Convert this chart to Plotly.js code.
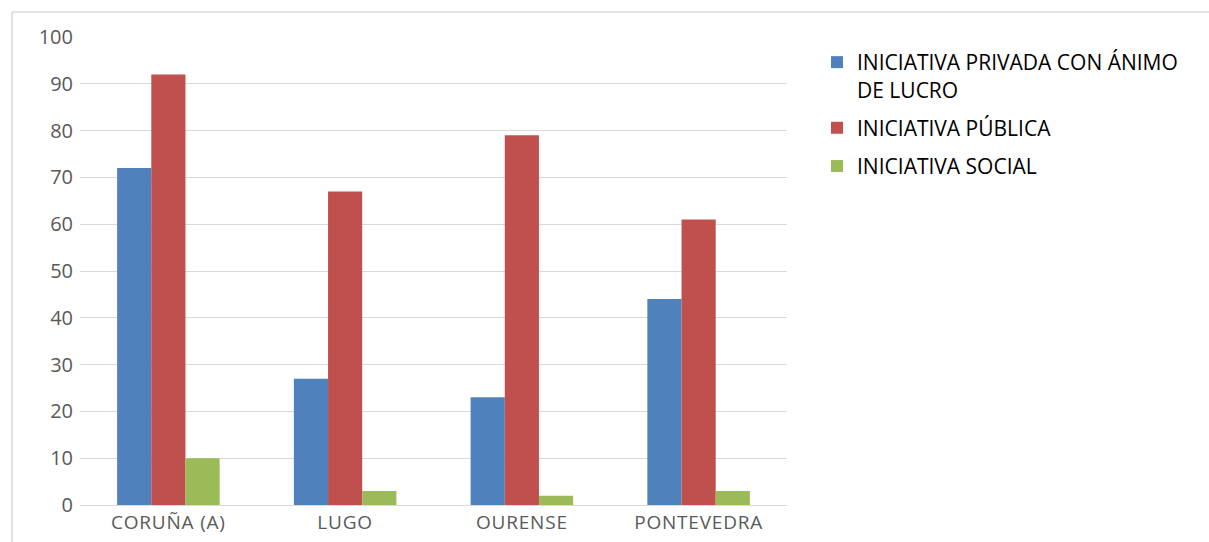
<!DOCTYPE html>
<html>
<head>
<meta charset="utf-8">
<script src="https://cdn.plot.ly/plotly-3.0.1.min.js"></script>
<style>
html,body{margin:0;padding:0;background:#fff;}
#chart{width:1209px;height:542px;}
#chart .xtick text{letter-spacing:0.8px;}
</style>
</head>
<body>
<div id="chart"></div>
<script>
const categories = ["CORUÑA (A)", "LUGO", "OURENSE", "PONTEVEDRA"];
const seriesNames = ["INICIATIVA PRIVADA CON ÁNIMO<br>DE LUCRO", "INICIATIVA PÚBLICA", "INICIATIVA SOCIAL"];
const privada = [72, 27, 23, 44];
const publica = [92, 67, 79, 61];
const social = [10, 3, 2, 3];
const colors = ["#4F81BD", "#C0504D", "#9BBB59"];
const yTicks = [0, 10, 20, 30, 40, 50, 60, 70, 80, 90, 100];

const seriesValues = [privada, publica, social];
const traces = seriesValues.map((vals, i) => ({
  type: "bar",
  name: seriesNames[i],
  legendgroup: "g" + i,
  x: categories,
  y: vals,
  marker: { color: colors[i] },
  hoverinfo: "x+y"
}));

const W = 1209, H = 542, L = 80, R = 422, T = 37, B = 37;
const pw = W - L - R, ph = H - T - B;
const px = v => (v - L) / pw;
const py = v => 1 - (v - T) / ph;

const layout = {
  width: W, height: H,
  margin: { l: L, r: R, t: T, b: B },
  paper_bgcolor: "#fff", plot_bgcolor: "#fff",
  barmode: "group",
  bargap: 0.42,
  bargroupgap: 0,
  font: { family: "Open Sans, Liberation Sans, sans-serif", color: "#595959", size: 20 },
  xaxis: {
    type: "category",
    showgrid: false,
    showline: true, linecolor: "#D9D9D9", linewidth: 1,
    ticks: "", tickfont: { size: 19, color: "#595959" },
    zeroline: false
  },
  yaxis: {
    range: [0, 100],
    tickvals: yTicks,
    ticktext: yTicks.map(String),
    showgrid: true, gridcolor: "#D9D9D9", gridwidth: 1,
    zeroline: false, showline: false,
    ticks: "", ticklabelstandoff: 6,
    tickfont: { size: 20, color: "#595959" }
  },
  legend: {
    x: px(817), y: py(42), xanchor: "left", yanchor: "top",
    font: { size: 21, color: "#000" },
    bgcolor: "rgba(0,0,0,0)",
    itemwidth: 30,
    valign: "top",
    tracegroupgap: 8
  },
  showlegend: true,
  shapes: [
    { type: "line", xref: "paper", yref: "paper", x0: px(12), x1: px(1209), y0: py(12), y1: py(12), line: { color: "#D9D9D9", width: 1.5 } },
    { type: "line", xref: "paper", yref: "paper", x0: px(12), x1: px(12), y0: py(12), y1: py(542), line: { color: "#D9D9D9", width: 1.5 } }
  ]
};

Plotly.newPlot("chart", traces, layout, { displayModeBar: false, staticPlot: true });
</script>
</body>
</html>
